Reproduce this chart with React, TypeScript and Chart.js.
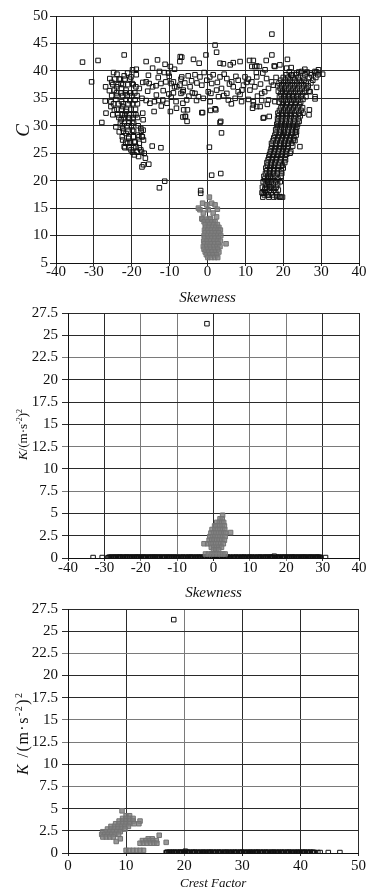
import React, { useEffect, useRef } from 'react';
import { Chart, registerables } from 'chart.js';

Chart.register(...registerables);

const SERIF = '"Liberation Serif", "Times New Roman", serif';
const INK = '#111111';

// ---------- tick values ----------
const skewTicks = [-40, -30, -20, -10, 0, 10, 20, 30, 40];
const crestTicks = [0, 10, 20, 30, 40, 50];
const cTicks = [5, 10, 15, 20, 25, 30, 35, 40, 45, 50];
const kTicks = [0, 2.5, 5, 7.5, 10, 12.5, 15, 17.5, 20, 22.5, 25, 27.5];

type Pt = [number, number];
type Row = [number, number[]]; // [y, xs]

// ---------- Panel 1: Skewness vs C ----------
const p1BlackScatter: Pt[] = [
  [-33.0, 41.6], [-28.9, 41.9], [-22.0, 42.9], [-30.6, 38.0], [-27.9, 30.6],
  [-26.9, 37.1], [-25.8, 38.6], [-25.3, 37.9], [-24.8, 39.7], [-23.9, 39.4], [-23.3, 38.5], [-22.8, 37.7],
  [-22.0, 39.1], [-21.1, 39.6], [-20.2, 38.9], [-19.8, 40.2], [-18.8, 40.3], [-18.8, 39.3],
  [-16.2, 41.7], [-13.2, 42.0], [-11.2, 41.2], [-9.8, 40.8], [-8.7, 40.3], [-7.2, 42.6],
  [-14.5, 40.5], [-12.7, 39.9], [-11.4, 39.7], [-10.3, 39.6], [-7.0, 38.5], [-7.3, 37.4], [-6.5, 36.2],
  [-25.9, 36.4], [-24.6, 36.5], [-24.0, 37.1], [-22.7, 36.8], [-21.5, 36.5],
  [-19.9, 37.7], [-18.9, 37.1], [-18.0, 36.8], [-17.1, 37.9], [-16.2, 38.0], [-15.4, 37.7], [-14.5, 37.1],
  [-13.6, 37.3], [-12.3, 37.7], [-11.0, 38.0], [-9.6, 37.7], [-8.7, 37.1],
  [-27.0, 34.5], [-25.5, 34.4], [-24.2, 34.8], [-22.7, 34.4], [-21.5, 34.8], [-20.5, 34.6], [-19.1, 34.7],
  [-17.3, 35.0], [-16.2, 34.6], [-15.2, 34.1], [-14.0, 34.4], [-12.9, 34.6], [-11.8, 34.7], [-10.7, 34.1],
  [-9.6, 35.2], [-8.3, 34.4],
  [-26.8, 32.3], [-25.5, 33.5], [-24.6, 32.9], [-23.7, 32.0], [-22.8, 31.1], [-22.4, 33.5], [-21.5, 32.6],
  [-20.6, 31.4], [-19.8, 30.5], [-18.9, 32.0], [-17.1, 32.3], [-17.0, 31.1],
  [-24.2, 29.8], [-23.3, 28.9], [-22.4, 29.5], [-21.5, 28.6], [-20.8, 27.7], [-19.8, 29.2], [-18.4, 28.3],
  [-17.6, 29.5], [-17.3, 28.0], [-17.0, 29.2],
  [-22.4, 27.4], [-22.0, 26.2], [-21.1, 26.8], [-20.2, 25.6], [-19.3, 27.1], [-18.9, 26.2], [-18.0, 26.8],
  [-16.9, 27.4], [-14.6, 26.3], [-12.3, 26.0],
  [-19.3, 24.7], [-18.2, 24.4], [-17.6, 25.6], [-16.7, 25.0], [-16.4, 24.1], [-16.9, 22.9], [-17.3, 22.5],
  [-15.5, 23.0], [-12.7, 18.7], [-11.3, 19.9],
  [-10.1, 39.0], [-9.0, 38.0], [-8.1, 37.1], [-7.0, 35.9], [-6.5, 34.1], [-6.3, 32.9], [-5.8, 31.7],
  [-9.8, 32.6], [-8.2, 33.2], [-14.1, 32.6], [-12.2, 33.6], [-6.5, 31.6], [-5.4, 30.8],
  [2.0, 44.7], [2.4, 43.4], [-0.4, 42.9], [-3.7, 42.1], [-2.2, 41.4], [3.3, 41.4], [4.2, 41.3], [6.0, 41.1],
  [6.8, 41.5], [8.6, 41.7], [11.1, 41.9], [12.1, 41.9], [15.5, 41.9], [17.0, 42.9], [17.0, 46.7], [19.1, 41.1],
  [21.1, 42.1], [12.5, 40.8], [13.7, 40.8], [17.6, 40.9], [22.1, 40.6], [-6.8, 42.5], [-7.3, 41.7],
  [-6.8, 38.9], [-5.1, 39.1], [-3.3, 39.3], [-2.0, 38.9], [-0.2, 38.3], [1.5, 39.3], [3.3, 38.9], [5.1, 38.6],
  [6.4, 38.0], [8.1, 38.3], [9.9, 38.9], [10.8, 38.5], [11.7, 38.0], [13.0, 38.9], [14.6, 39.6], [15.6, 38.6],
  [16.9, 38.0], [18.1, 38.8],
  [-6.4, 36.5], [-4.6, 37.1], [-3.3, 35.9], [-1.5, 37.4], [0.2, 36.2], [1.1, 37.7], [2.4, 36.5], [3.7, 36.8],
  [5.1, 35.9], [6.8, 37.1], [8.1, 36.2], [9.5, 37.4], [11.2, 36.5], [12.5, 37.1], [14.3, 35.9], [16.1, 36.8],
  [17.4, 37.4],
  [-5.5, 34.7], [-2.9, 34.6], [-1.1, 35.0], [0.7, 34.4], [2.9, 35.3], [5.5, 34.7], [7.3, 35.0], [9.0, 34.4],
  [10.8, 34.8], [12.1, 34.4], [14.3, 34.6], [16.1, 34.7], [17.8, 34.4],
  [-5.3, 32.9], [-5.9, 31.7], [-1.3, 32.4], [0.8, 32.8], [2.2, 32.9], [3.5, 30.8], [11.9, 33.2], [13.9, 33.5],
  [14.9, 31.5], [16.3, 31.7], [3.7, 28.7], [3.3, 30.6], [-1.5, 32.4], [2.0, 33.1],
  [-4.2, 38.2], [-2.8, 37.8], [-0.9, 39.7], [0.6, 38.9], [2.6, 37.9], [4.4, 39.4], [5.8, 37.6], [7.5, 39.0],
  [9.1, 36.5], [10.3, 37.9], [12.9, 39.7], [14.0, 37.6], [15.1, 36.2], [-4.0, 36.0], [-2.4, 35.3], [0.9, 35.9],
  [4.3, 35.5], [6.3, 34.0], [8.6, 35.7], [13.2, 35.4], [15.8, 33.9], [-13.0, 38.8], [-15.6, 39.2], [-11.7, 36.4],
  [-10.2, 35.8], [-13.5, 35.6], [-15.8, 36.3], [-9.0, 36.0], [-6.0, 37.8], [-4.9, 35.4],
  [-1.8, 18.2], [-1.8, 17.7], [1.1, 21.0], [3.5, 21.3], [0.5, 26.1],
  [13.0, 33.5], [12.1, 33.8], [14.7, 31.4], [11.7, 40.8], [13.0, 40.9], [15.2, 40.2], [17.8, 40.8],
  [20.9, 40.5], [22.2, 39.2], [23.5, 39.6], [24.9, 39.9], [25.7, 40.3], [27.1, 39.6], [28.4, 39.9], [29.3, 40.2],
  [30.4, 39.4], [28.8, 37.0], [28.4, 34.9], [26.9, 32.9], [26.8, 32.0], [28.4, 35.3], [27.1, 36.2], [24.4, 26.2],
  [21.8, 25.0], [22.7, 27.4], [23.5, 28.9], [14.7, 17.7], [16.1, 17.4], [18.3, 17.1], [19.1, 17.1], [15.2, 18.6],
  [16.5, 18.9],
];

const p1BlackLeftRows: Row[] = [
  [38.5, [-24.5, -23.0, -21.8, -20.5]],
  [37.5, [-25.0, -23.6, -22.3, -21.0, -19.6]],
  [36.0, [-24.0, -22.8, -21.7, -20.3, -19.2]],
  [35.5, [-25.3, -23.9, -22.4, -21.2, -20.0, -18.6]],
  [34.0, [-24.8, -23.5, -22.2, -21.0, -19.8, -18.5]],
  [33.0, [-23.9, -22.7, -21.4, -20.2, -19.0]],
  [32.0, [-25.0, -22.5, -21.8, -20.6, -19.5]],
  [31.5, [-23.4, -22.0, -21.0, -19.6, -18.5]],
  [30.5, [-23.0, -21.9, -20.8, -19.5]],
  [30.0, [-22.5, -21.2, -20.1, -18.3]],
  [29.0, [-22.2, -21.0, -19.5, -17.5]],
  [28.0, [-22.5, -20.8, -19.6, -18.1, -17.2]],
  [27.0, [-21.6, -20.4, -19.1]],
  [26.0, [-21.8, -20.7, -19.5, -18.0]],
  [25.2, [-19.8, -18.6, -17.4]],
];

const p1BlackRightRows: Row[] = [
  [17.0, [14.6, 16.2, 17.5, 19.1, 19.8]],
  [17.4, [15.0, 16.0, 17.1, 18.3]],
  [17.8, [14.4, 15.4, 16.8, 18.0]],
  [18.3, [15.1, 16.4, 17.5, 18.7]],
  [18.8, [14.5, 15.6, 16.9, 18.1]],
  [19.3, [15.3, 16.2, 17.4, 18.5]],
  [19.8, [14.7, 15.8, 16.8, 18.0, 19.2]],
  [20.3, [15.1, 16.1, 17.2, 18.6]],
  [20.8, [14.9, 15.9, 16.7, 17.8, 19.4]],
  [21.3, [15.3, 16.3, 17.3, 18.4, 19.6]],
  [21.8, [15.6, 16.5, 17.5, 18.5, 19.5]],
  [22.3, [15.4, 16.5, 17.5, 18.6, 20.0]],
  [22.8, [15.8, 16.8, 17.7, 18.7, 19.8]],
  [23.3, [15.7, 16.8, 17.8, 19.0, 20.4]],
  [23.8, [16.0, 17.1, 18.1, 19.2, 20.6]],
  [24.3, [16.2, 17.2, 18.3, 19.4, 20.5]],
  [24.8, [16.4, 17.5, 18.6, 19.7, 20.9]],
  [25.3, [16.6, 17.6, 18.7, 19.8, 20.8, 22.0]],
  [25.8, [16.8, 17.8, 18.9, 20.0, 21.1]],
  [26.3, [17.0, 18.1, 19.1, 20.2, 21.3, 22.5]],
  [26.8, [16.9, 18.0, 19.1, 20.2, 21.3, 22.2]],
  [27.3, [17.3, 18.4, 19.4, 20.5, 21.5, 23.1]],
  [27.8, [17.5, 18.6, 19.7, 20.7, 21.8, 22.8]],
  [28.3, [17.8, 18.9, 19.9, 21.0, 22.0, 23.4]],
  [28.8, [18.1, 19.2, 20.2, 21.3, 22.3, 23.2]],
  [29.3, [18.0, 19.0, 20.1, 21.2, 22.4, 23.3]],
  [29.8, [18.4, 19.5, 20.5, 21.6, 22.7, 23.6]],
  [30.3, [18.3, 19.3, 20.4, 21.5, 22.6, 23.8]],
  [30.8, [18.6, 19.7, 20.8, 21.9, 23.0, 24.2]],
  [31.3, [18.5, 19.5, 20.6, 21.7, 22.8, 24.0]],
  [31.8, [18.8, 19.9, 21.0, 22.1, 23.2, 24.5]],
  [32.3, [18.6, 19.6, 20.7, 21.8, 22.9, 24.2, 25.2]],
  [32.8, [19.0, 20.1, 21.2, 22.3, 23.4, 24.7]],
  [33.3, [19.4, 20.5, 21.6, 22.7, 23.8, 25.1]],
  [33.8, [19.8, 20.9, 22.0, 23.1, 24.3]],
  [34.3, [18.9, 20.0, 21.1, 22.2, 23.4, 24.6]],
  [34.8, [19.5, 20.6, 21.7, 22.8, 23.9, 25.2]],
  [35.3, [19.0, 20.2, 21.3, 22.4, 23.5, 24.7, 26.0]],
  [35.8, [19.4, 20.5, 21.6, 22.7, 23.9, 25.1]],
  [36.3, [18.7, 19.8, 20.9, 22.1, 23.2, 24.4, 25.6, 26.8]],
  [36.8, [19.2, 20.3, 21.4, 22.6, 23.7, 24.9, 26.2]],
  [37.3, [18.5, 19.6, 20.7, 21.9, 23.0, 24.2, 25.4, 26.6]],
  [37.8, [18.9, 20.1, 21.2, 22.4, 23.6, 24.8, 26.0, 27.3]],
  [38.3, [19.4, 20.6, 21.8, 23.0, 24.3, 25.5, 27.8]],
  [38.8, [20.0, 21.3, 22.6, 24.0, 25.2, 26.9, 28.6]],
  [39.3, [20.8, 22.2, 23.5, 25.7, 27.4, 29.1]],
  [39.8, [21.6, 24.1, 26.3, 28.8]],
];

const p1GrayScatter: Pt[] = [
  [0.5, 17.0], [-1.3, 15.9], [-0.2, 15.6], [1.1, 15.9], [2.0, 15.6], [-2.0, 14.7], [-1.1, 14.1], [0.2, 14.7],
  [1.5, 14.1], [0.7, 13.1], [-0.7, 12.8], [-1.5, 13.1], [2.4, 13.4], [1.5, 12.5], [0.2, 12.2], [4.9, 8.5],
  [-2.4, 15.0], [2.6, 14.8],
];
const p1GrayRows: Row[] = [
  [13.0, [-1.4, -0.3, 0.8]],
  [12.5, [-0.9, 0.1, 1.1, 2.0]],
  [12.0, [-0.6, 0.5, 1.6, 2.6]],
  [11.5, [-0.5, 0.4, 1.3, 2.2, 3.0]],
  [11.0, [-0.8, 0.1, 1.0, 1.9, 2.8, 3.4]],
  [10.5, [-0.6, 0.3, 1.2, 2.1, 3.0]],
  [10.0, [-0.9, 0.0, 0.9, 1.8, 2.7, 3.5]],
  [9.5, [-0.7, 0.2, 1.1, 2.0, 2.9]],
  [9.0, [-1.0, -0.1, 0.8, 1.7, 2.6, 3.4]],
  [8.5, [-0.8, 0.1, 1.0, 1.9, 2.8]],
  [8.0, [-1.1, -0.2, 0.7, 1.6, 2.5, 3.3]],
  [7.5, [-0.9, 0.0, 0.9, 1.8, 2.7]],
  [7.0, [-0.6, 0.3, 1.2, 2.1, 3.0]],
  [6.5, [-0.3, 0.6, 1.5, 2.4]],
  [6.0, [0.1, 1.0, 1.9, 2.7]],
];

// ---------- Panel 2: Skewness vs K ----------
const p2Black: Pt[] = [
  [-1.8, 26.3],
  [-33.1, 0.05], [-30.6, 0.05], [-29.0, 0.04], [-28.3, 0.06], [-27.6, 0.03], [-27.0, 0.07], [-26.3, 0.04],
  [-25.8, 0.08], [-25.1, 0.05], [-24.4, 0.03], [-23.9, 0.09], [-23.2, 0.05], [-22.5, 0.06], [-22.0, 0.03],
  [-21.3, 0.08], [-20.7, 0.05], [-20.1, 0.04], [-19.4, 0.07], [-18.8, 0.05], [-18.1, 0.03], [-17.5, 0.06],
  [-16.8, 0.05], [-16.2, 0.08], [-15.5, 0.04], [-14.9, 0.06], [-14.2, 0.05], [-13.6, 0.03], [-12.9, 0.07],
  [-12.3, 0.05], [-11.6, 0.04], [-11.0, 0.06], [-10.3, 0.05], [-9.5, 0.03], [-8.7, 0.06], [-8.0, 0.05],
  [-7.2, 0.04], [-6.5, 0.07], [-5.9, 0.05], [-5.1, 0.03], [-4.4, 0.06], [-3.7, 0.05], [-3.0, 0.04],
  [-2.4, 0.07], [-1.6, 0.05], [-0.9, 0.06], [-0.2, 0.04], [0.6, 0.05], [1.3, 0.07], [2.0, 0.05], [2.8, 0.04],
  [3.5, 0.06], [4.3, 0.05], [5.0, 0.03], [5.8, 0.06], [6.6, 0.05], [7.3, 0.04], [8.1, 0.07], [8.8, 0.05],
  [9.6, 0.04], [10.3, 0.06], [11.0, 0.05], [11.8, 0.03], [12.5, 0.07], [13.1, 0.05], [13.8, 0.04], [14.5, 0.06],
  [15.1, 0.05], [15.8, 0.08], [16.4, 0.05], [16.7, 0.2], [17.1, 0.04], [17.8, 0.06], [18.4, 0.05], [19.1, 0.03],
  [19.7, 0.07], [20.4, 0.05], [21.0, 0.04], [21.7, 0.08], [22.3, 0.05], [23.0, 0.03], [23.6, 0.06], [24.3, 0.05],
  [24.9, 0.07], [25.6, 0.04], [26.2, 0.05], [26.9, 0.06], [27.5, 0.04], [28.2, 0.05], [28.8, 0.07], [29.4, 0.05],
  [30.8, 0.05],
];
const p2BlackRows: Row[] = [
  [0.1, [
    -28.6, -28.0, -27.3, -26.7, -26.0, -25.5, -24.8, -24.2, -23.6, -22.9, -22.3, -21.7, -21.0, -20.4, -19.8,
    -19.1, -18.5, -17.8, -17.2, -16.5, -15.9, -15.2, -14.6, -13.9, -13.3, -12.6, -12.0, -11.3, -10.7, -9.9,
    -9.1, -8.4, -7.6, -6.9, -6.2, -5.5, -4.8, -4.1, -3.4, -2.7, -2.0, -1.3, -0.6, 0.2, 0.9, 1.6, 2.4, 3.1,
    3.9, 4.6, 5.4, 6.2, 6.9, 7.7, 8.4, 9.2, 9.9, 10.6, 11.4, 12.1, 12.8, 13.5, 14.2, 14.8, 15.5, 16.1, 17.4,
    18.1, 18.8, 19.4, 20.1, 20.7, 21.4, 22.0, 22.6, 23.3, 23.9, 24.6, 25.2, 25.9, 26.5, 27.2, 27.8, 28.5,
    29.1,
  ]],
  [0.0, [
    -28.9, -28.1, -27.4, -26.8, -26.2, -25.6, -24.9, -24.3, -23.7, -23.0, -22.4, -21.8, -21.2, -20.5, -19.9,
    -19.3, -18.6, -18.0, -17.4, -16.7, -16.1, -15.4, -14.8, -14.1, -13.5, -12.8, -12.2, -11.5, -10.9, -10.2,
    -9.6, -8.9, -8.3, -7.6, -7.0, -6.3, -5.7, -5.0, -4.3, -3.6, -2.9, -2.2, -1.5, -0.8, -0.1, 0.5, 1.2, 1.9,
    2.6, 3.3, 4.0, 4.7, 5.5, 6.3, 7.0, 7.8, 8.5, 9.3, 10.0, 10.8, 11.5, 12.3, 13.0, 13.7, 14.4, 15.0, 15.6,
    16.2, 16.9, 17.5, 18.2, 18.9, 19.5, 20.2, 20.8, 21.5, 22.1, 22.8, 23.4, 24.1, 24.7, 25.4, 26.0, 26.7,
    27.3, 28.0, 28.6, 29.3,
  ]],
];
const p2GrayScatter: Pt[] = [[2.5, 4.8], [4.7, 2.86], [-2.6, 1.6]];
const p2GrayRows: Row[] = [
  [4.4, [1.8, 2.4]],
  [4.0, [0.9, 1.6, 2.3, 2.8]],
  [3.6, [0.3, 1.0, 1.7, 2.4, 3.0]],
  [3.2, [-0.4, 0.4, 1.1, 1.8, 2.5, 3.1]],
  [2.8, [-0.7, 0.0, 0.7, 1.4, 2.1, 2.8, 3.3]],
  [2.4, [-1.0, -0.3, 0.4, 1.1, 1.8, 2.5, 3.2]],
  [2.0, [-1.2, -0.5, 0.2, 0.9, 1.6, 2.3, 3.0]],
  [1.6, [-1.6, -0.8, -0.1, 0.6, 1.3, 2.0, 2.7]],
  [1.2, [-0.6, 0.1, 0.8, 1.5, 2.2]],
  [0.9, [0.0, 0.7, 1.4]],
  [0.45, [-2.2, -1.4, -0.6, 0.2, 1.0, 1.8, 2.6, 3.2]],
];

// ---------- Panel 3: Crest Factor vs K ----------
const p3Black: Pt[] = [
  [18.2, 26.3],
  [16.9, 0.05], [17.3, 0.04], [17.8, 0.06], [18.2, 0.05], [18.6, 0.03], [19.1, 0.07], [19.5, 0.05], [19.9, 0.04],
  [20.2, 0.2], [20.4, 0.06], [20.8, 0.05], [21.3, 0.04], [21.7, 0.07], [22.2, 0.05], [22.6, 0.03], [23.1, 0.06],
  [23.5, 0.05], [24.0, 0.04], [24.4, 0.07], [24.9, 0.05], [25.3, 0.04], [25.8, 0.06], [26.2, 0.05], [26.7, 0.03],
  [27.1, 0.07], [27.6, 0.05], [28.0, 0.04], [28.5, 0.06], [28.9, 0.05], [29.4, 0.04], [29.8, 0.07], [30.3, 0.05],
  [30.7, 0.03], [31.2, 0.06], [31.6, 0.05], [32.1, 0.04], [32.5, 0.07], [33.0, 0.05], [33.4, 0.04], [33.9, 0.06],
  [34.3, 0.05], [34.8, 0.03], [35.2, 0.07], [35.7, 0.05], [36.1, 0.04], [36.6, 0.06], [37.0, 0.05], [37.5, 0.04],
  [37.9, 0.07], [38.4, 0.05], [38.8, 0.03], [39.3, 0.06], [39.7, 0.05], [40.2, 0.04], [40.6, 0.07], [41.1, 0.05],
  [41.5, 0.04], [42.0, 0.06], [42.4, 0.05], [43.0, 0.05], [43.4, 0.05], [44.8, 0.05], [46.8, 0.05],
];
const p3BlackRows: Row[] = [
  [0.09, [
    17.1, 17.5, 18.0, 18.4, 18.8, 19.3, 19.7, 20.1, 20.6, 21.0, 21.5, 21.9, 22.4, 22.8, 23.3, 23.7, 24.2,
    24.6, 25.1, 25.5, 26.0, 26.4, 26.9, 27.3, 27.8, 28.2, 28.7, 29.1, 29.6, 30.0, 30.5, 30.9, 31.4, 31.8,
    32.3, 32.7, 33.2, 33.6, 34.1, 34.5, 35.0, 35.4, 35.9, 36.3, 36.8, 37.2, 37.7, 38.1, 38.6, 39.0, 39.5,
    39.9, 40.4, 40.8, 41.3, 41.7, 42.2,
  ]],
  [0.02, [
    17.0, 17.4, 17.9, 18.3, 18.7, 19.2, 19.6, 20.0, 20.5, 20.9, 21.4, 21.8, 22.3, 22.7, 23.2, 23.6, 24.1,
    24.5, 25.0, 25.4, 25.9, 26.3, 26.8, 27.2, 27.7, 28.1, 28.6, 29.0, 29.5, 29.9, 30.4, 30.8, 31.3, 31.7,
    32.2, 32.6, 33.1, 33.5, 34.0, 34.4, 34.9, 35.3, 35.8, 36.2, 36.7, 37.1, 37.6, 38.0, 38.5, 38.9, 39.4,
    39.8, 40.3, 40.7, 41.2, 41.6, 42.1, 42.5,
  ]],
];
const p3GrayScatter: Pt[] = [[9.3, 4.75], [8.3, 1.3], [15.7, 2.0], [16.9, 1.2], [9.0, 1.6]];
const p3GrayRows: Row[] = [
  [4.2, [10.0, 10.6]],
  [3.9, [9.4, 10.0, 10.6, 11.2]],
  [3.6, [8.8, 9.4, 10.0, 10.6, 11.2, 12.4]],
  [3.3, [8.2, 8.8, 9.4, 10.0, 10.6, 11.4, 12.2]],
  [3.0, [7.4, 8.0, 8.6, 9.2, 9.8, 10.4]],
  [2.7, [6.8, 7.4, 8.0, 8.6, 9.2, 9.8]],
  [2.4, [6.0, 6.6, 7.2, 7.8, 8.4, 9.0]],
  [2.1, [5.8, 6.3, 6.9, 7.5, 8.1, 8.7]],
  [1.8, [6.0, 6.6, 7.2, 7.8]],
  [1.6, [13.8, 14.5]],
  [1.4, [12.8, 13.4, 14.0, 14.6, 15.2]],
  [1.1, [12.4, 13.0, 13.6, 14.2, 14.8, 15.3]],
  [0.3, [10.0, 10.6, 11.2, 11.8, 12.4, 13.0]],
];

// ---------- helpers ----------
const fromPts = (pts: Pt[]) => pts.map(([x, y]) => ({ x, y }));
const fromRows = (rows: Row[]) => rows.flatMap(([y, xs]) => xs.map((x) => ({ x, y })));

type Seg = { t: string; it?: boolean; sup?: boolean };

function richYTitle(segs: Seg[], cx: number, size: number, dy: number, spacing: number) {
  return {
    id: 'richYTitle',
    afterDraw(chart: any) {
      const { ctx, chartArea } = chart;
      const cy = (chartArea.top + chartArea.bottom) / 2 + dy;
      const fontOf = (s: Seg) =>
        `${s.it ? 'italic ' : ''}${s.sup ? Math.round(size * 0.62) : size}px ${SERIF}`;
      ctx.save();
      const pieces: { ch: string; seg: Seg; w: number }[] = [];
      let total = 0;
      segs.forEach((s) => {
        ctx.font = fontOf(s);
        for (const ch of s.t) {
          const w = ctx.measureText(ch).width + spacing;
          pieces.push({ ch, seg: s, w });
          total += w;
        }
      });
      total -= spacing;
      ctx.translate(cx, cy);
      ctx.rotate(-Math.PI / 2);
      ctx.fillStyle = INK;
      ctx.textBaseline = 'alphabetic';
      ctx.textAlign = 'left';
      let x = -total / 2;
      const base = size * 0.33;
      pieces.forEach((p) => {
        ctx.font = fontOf(p.seg);
        ctx.fillText(p.ch, x, base - (p.seg.sup ? size * 0.42 : 0));
        x += p.w;
      });
      ctx.restore();
    },
  };
}

interface Spec {
  top: number;
  height: number;
  padTop: number;
  yWidth: number;
  xHeight: number;
  xMin: number;
  xMax: number;
  xTicks: number[];
  yMin: number;
  yMax: number;
  yTicks: number[];
  xTitle: string;
  xTitleSize: number;
  xTitlePad: number;
  xTickLen: number;
  xTickPad: number;
  yTickLen: number;
  yTickPad: number;
  titleSegs: Seg[];
  titleSize: number;
  titleDy: number;
  titleSpacing: number;
  black: { x: number; y: number }[];
  gray: { x: number; y: number }[];
  darkX: number[];
  darkY: number[];
}

const DARK = '#2a2a2a';
const LIGHT = '#7a7a7a';

function Panel({ spec }: { spec: Spec }) {
  const ref = useRef<HTMLCanvasElement>(null);
  useEffect(() => {
    if (!ref.current) return;
    const tickFont = { family: SERIF, size: 15 };
    const gridColor = (dark: number[]) => (c: any) =>
      c.tick && dark.includes(c.tick.value) ? DARK : LIGHT;
    const chart = new Chart(ref.current, {
      type: 'scatter',
      data: {
        datasets: [
          {
            data: spec.gray,
            pointStyle: 'rect',
            pointRadius: 3.2,
            borderWidth: 1,
            borderColor: '#747474',
            backgroundColor: 'rgba(128,128,128,0.8)',
          },
          {
            data: spec.black,
            pointStyle: 'rect',
            pointRadius: 3.2,
            borderWidth: 1,
            borderColor: '#111111',
            backgroundColor: 'rgba(255,255,255,0)',
          },
        ],
      },
      options: {
        animation: false,
        responsive: false,
        devicePixelRatio: 1,
        events: [],
        layout: { padding: { top: spec.padTop, right: 8, left: 0, bottom: 0 } },
        plugins: { legend: { display: false }, tooltip: { enabled: false } },
        scales: {
          x: {
            type: 'linear',
            min: spec.xMin,
            max: spec.xMax,
            afterBuildTicks: (s: any) => {
              s.ticks = spec.xTicks.map((v) => ({ value: v }));
            },
            afterFit: (s: any) => {
              s.height = spec.xHeight;
            },
            ticks: {
              font: tickFont,
              color: INK,
              padding: spec.xTickPad,
              maxRotation: 0,
              autoSkip: false,
              callback: (v: any) => String(v),
            },
            grid: {
              color: gridColor(spec.darkX),
              lineWidth: 1,
              tickLength: spec.xTickLen,
              drawTicks: true,
            },
            border: { color: '#111', width: 1 },
            title: {
              display: true,
              text: spec.xTitle,
              color: INK,
              font: { family: SERIF, size: spec.xTitleSize, style: 'italic' },
              padding: { top: 0, bottom: spec.xTitlePad },
            },
          },
          y: {
            type: 'linear',
            min: spec.yMin,
            max: spec.yMax,
            afterBuildTicks: (s: any) => {
              s.ticks = spec.yTicks.map((v) => ({ value: v }));
            },
            afterFit: (s: any) => {
              s.width = spec.yWidth;
            },
            ticks: {
              font: tickFont,
              color: INK,
              padding: spec.yTickPad,
              autoSkip: false,
              callback: (v: any) => String(v),
            },
            grid: {
              color: gridColor(spec.darkY),
              lineWidth: 1,
              tickLength: spec.yTickLen,
              drawTicks: true,
            },
            border: { color: '#111', width: 1 },
          },
        },
      },
      plugins: [richYTitle(spec.titleSegs, 23, spec.titleSize, spec.titleDy, spec.titleSpacing)],
    } as any);
    return () => chart.destroy();
  }, [spec]);
  return (
    <div style={{ position: 'absolute', left: 0, top: spec.top, width: 367, height: spec.height }}>
      <canvas ref={ref} width={367} height={spec.height} style={{ display: 'block' }} />
    </div>
  );
}

const kTitle: Seg[] = [
  { t: 'K', it: true },
  { t: '/(m·s' },
  { t: '-2', sup: true },
  { t: ')' },
  { t: '2', sup: true },
];
const kTitle3: Seg[] = [
  { t: 'K ', it: true },
  { t: '/(m·s' },
  { t: '-2', sup: true },
  { t: ')' },
  { t: '2', sup: true },
];

const panels: Spec[] = [
  {
    top: 0,
    height: 310,
    padTop: 16,
    yWidth: 56,
    xHeight: 47,
    xMin: -40,
    xMax: 40,
    xTicks: skewTicks,
    yMin: 5,
    yMax: 50,
    yTicks: cTicks,
    xTitle: 'Skewness',
    xTitleSize: 15,
    xTitlePad: 3,
    xTickLen: 3,
    xTickPad: -3,
    yTickLen: 6,
    yTickPad: 2,
    titleSegs: [{ t: 'C', it: true }],
    titleSize: 19,
    titleDy: -9,
    titleSpacing: 0,
    black: [...fromPts(p1BlackScatter), ...fromRows(p1BlackLeftRows), ...fromRows(p1BlackRightRows)],
    gray: [...fromPts(p1GrayScatter), ...fromRows(p1GrayRows)],
    darkX: skewTicks,
    darkY: cTicks,
  },
  {
    top: 300,
    height: 305,
    padTop: 11,
    yWidth: 68,
    xHeight: 47,
    xMin: -40,
    xMax: 40,
    xTicks: skewTicks,
    yMin: 0,
    yMax: 27.5,
    yTicks: kTicks,
    xTitle: 'Skewness',
    xTitleSize: 15,
    xTitlePad: 3,
    xTickLen: 3,
    xTickPad: -2,
    yTickLen: 6,
    yTickPad: 4,
    titleSegs: kTitle,
    titleSize: 13,
    titleDy: -1,
    titleSpacing: 0,
    black: [...fromPts(p2Black), ...fromRows(p2BlackRows)],
    gray: [...fromPts(p2GrayScatter), ...fromRows(p2GrayRows)],
    darkX: [-40, -30, 0, 30, 40],
    darkY: [0, 2.5, 5, 10, 15, 17.5, 20, 25, 27.5],
  },
  {
    top: 596,
    height: 300,
    padTop: 11,
    yWidth: 68,
    xHeight: 43,
    xMin: 0,
    xMax: 50,
    xTicks: crestTicks,
    yMin: 0,
    yMax: 27.5,
    yTicks: kTicks,
    xTitle: 'Crest Factor',
    xTitleSize: 13,
    xTitlePad: 5,
    xTickLen: 3,
    xTickPad: 1,
    yTickLen: 6,
    yTickPad: 4,
    titleSegs: kTitle3,
    titleSize: 16,
    titleDy: 3,
    titleSpacing: 1.5,
    black: [...fromPts(p3Black), ...fromRows(p3BlackRows)],
    gray: [...fromPts(p3GrayScatter), ...fromRows(p3GrayRows)],
    darkX: [0, 10, 30, 40, 50],
    darkY: [0, 2.5, 5, 10, 17.5, 20, 25, 27.5],
  },
];

export default function App() {
  return (
    <div style={{ position: 'absolute', left: 0, top: 0, width: 367, height: 896, background: '#fff' }}>
      {panels.map((p, i) => (
        <Panel key={i} spec={p} />
      ))}
    </div>
  );
}
